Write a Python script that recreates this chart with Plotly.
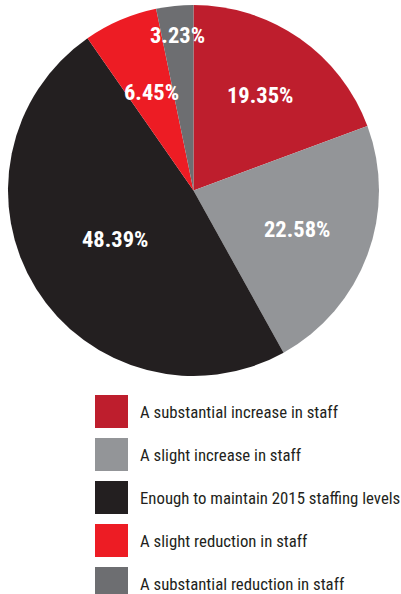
import math
import plotly.graph_objects as go

# Staffing outlook responses (share of respondents, %)
categories = [
    "A substantial increase in staff",
    "A slight increase in staff",
    "Enough to maintain 2015 staffing levels",
    "A slight reduction in staff",
    "A substantial reduction in staff",
]
shares = [19.35, 22.58, 48.39, 6.45, 3.23]
colors = ["#BE1E2D", "#939598", "#231F20", "#ED1C24", "#6D6E71"]

# Radial placement of each percentage label, as a fraction of the pie radius
label_radius = [0.625, 0.593, 0.496, 0.577, 0.84]

W, H = 401, 594
CX, CY, R = 193.5, 190.5, 185.5  # pie centre and radius, in pixels

LABEL_FONT = "Liberation Sans Narrow, Roboto Condensed, DejaVu Sans Condensed, sans-serif"

fig = go.Figure()
fig.add_trace(go.Pie(
    labels=categories,
    values=shares,
    marker=dict(colors=colors, line=dict(width=0)),
    sort=False,
    direction="clockwise",
    rotation=0,
    textinfo="none",
    hoverinfo="label+percent",
    showlegend=False,
    domain=dict(x=[(CX - R) / W, (CX + R) / W], y=[1 - (CY + R) / H, 1 - (CY - R) / H]),
))

annotations = []
shapes = []

# Percentage labels placed along each slice's mid-angle
total = sum(shares)
cum = 0.0
for v, f in zip(shares, label_radius):
    mid = (cum + v / 2) / total * 2 * math.pi
    cum += v
    px = CX + R * f * math.sin(mid)
    py = CY - R * f * math.cos(mid)
    annotations.append(dict(
        x=px / W, y=1 - py / H, xref="paper", yref="paper",
        text=f"<b>{v:.2f}%</b>", showarrow=False,
        xanchor="center", yanchor="middle",
        font=dict(family=LABEL_FONT, size=22.5, color="white"),
    ))

# Legend: colour swatches with their category names
BOX_X, BOX_TOP, BOX, STEP, TEXT_X = 95, 395, 33, 43, 139
for i, (name, col) in enumerate(zip(categories, colors)):
    top = BOX_TOP + i * STEP
    shapes.append(dict(
        type="rect", xref="paper", yref="paper",
        x0=BOX_X / W, x1=(BOX_X + BOX) / W,
        y0=1 - (top + BOX) / H, y1=1 - top / H,
        fillcolor=col, line=dict(width=0),
    ))
    annotations.append(dict(
        x=(TEXT_X - 1) / W, y=1 - (top + BOX / 2) / H, xref="paper", yref="paper",
        text=name, showarrow=False, xanchor="left", yanchor="middle",
        font=dict(family=LABEL_FONT, size=16.8, color="#231F20"),
    ))

fig.update_layout(
    width=W, height=H, autosize=False,
    margin=dict(l=0, r=0, t=0, b=0),
    paper_bgcolor="white", plot_bgcolor="white",
    annotations=annotations, shapes=shapes,
)

fig.write_html("out.html")
